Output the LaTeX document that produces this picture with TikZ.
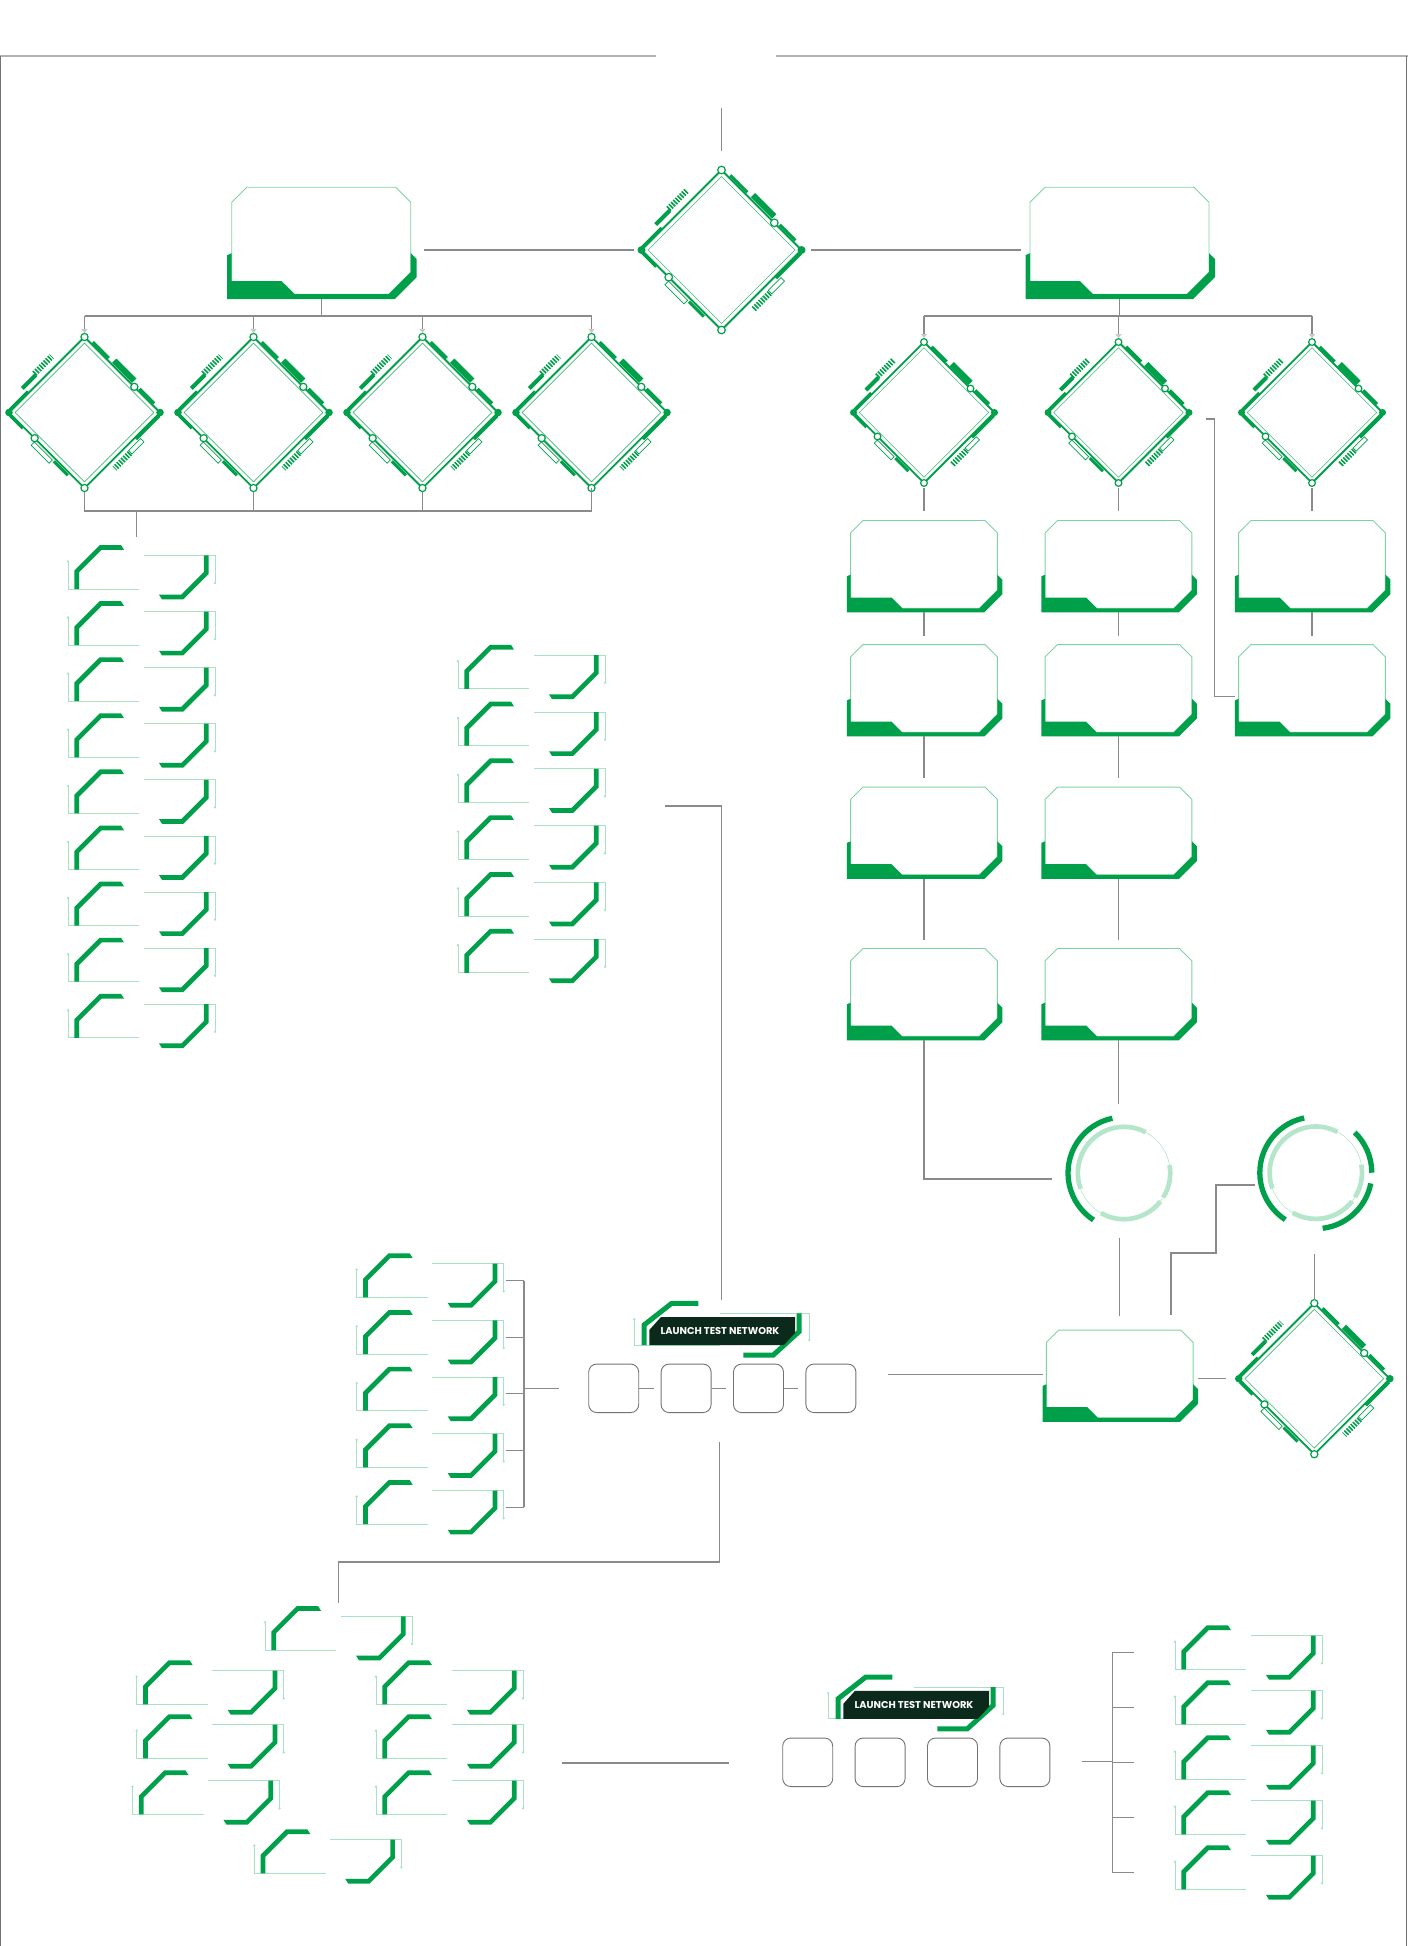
\documentclass[tikz,border=0pt]{standalone}
\usepackage{fontspec}
\newfontfamily\badgefont{Poppins}
\usetikzlibrary{arrows.meta}

\definecolor{gr}{HTML}{00A04B}
\definecolor{lgr}{HTML}{7FD3A3}
\definecolor{tgr}{HTML}{A8E2C2}
\definecolor{rgl}{HTML}{B5E6CB}
\definecolor{wireg}{HTML}{8A8A8A}
\definecolor{panel}{HTML}{0C2A1B}

\tikzset{
  wire/.style={draw=wireg, line width=1.1pt},
  drop/.style={wire, -{Triangle[width=6pt,length=4pt,color=black!22]}},
  slot/.style={draw=black!55, line width=0.9pt, rounded corners=8pt,
               minimum width=50pt, minimum height=48.5pt, inner sep=0pt},
  % diamond chip
  chip/.pic={
    \draw[gr, line width=1.8pt, line join=miter] (0,-80) -- (80,0) -- (0,80) -- (-80,0) -- cycle;
    \draw[gr!75, line width=0.6pt] (0,-73.5) -- (73.5,0) -- (0,73.5) -- (-73.5,0) -- cycle;
    \begin{scope}[shift={(0,-80)}, rotate=-45]
      \draw[gr, line width=3pt] (10,-2.5) -- (34,-2.5);
      \draw[gr, line width=6pt] (40,-4.5) -- (70,-4.5);
      \draw[gr, line width=3pt] (80,-2.5) -- (102,-2.5);
    \end{scope}
    \begin{scope}[shift={(80,0)}, rotate=-135]
      \draw[gr, line width=3pt] (3,-2) -- (38,-2);
      \draw[gr, line width=0.7pt] (34,-5) rectangle (52,-10);
      \draw[gr, line width=6pt, dash pattern=on 1.6pt off 1.4pt] (53,-8) -- (76,-8);
    \end{scope}
    \begin{scope}[shift={(0,80)}, rotate=135]
      \draw[gr, line width=3pt] (22,-3) -- (43,-3);
      \draw[gr, line width=0.7pt] (45,-3) rectangle (72,-8);
      \draw[gr, line width=3pt] (91,-1.5) -- (110,-1.5);
    \end{scope}
    \begin{scope}[shift={(-80,0)}, rotate=45]
      \draw[gr, line width=3pt] (3,-1.5) -- (30,-1.5);
      \draw[gr, line width=4pt] (28,-8) -- (48,-8);
      \draw[gr, line width=6pt, dash pattern=on 1.6pt off 1.4pt] (48,-10) -- (74,-10);
    \end{scope}
    \filldraw[fill=white, draw=gr, line width=1.2pt] (0,-80) circle (3.8) (0,80) circle (3.8)
      (52.8,-27.2) circle (3.8) (-52.8,27.2) circle (3.8);
    \fill[gr] (80,0) circle (4) (-80,0) circle (4);
    \coordinate (-n) at (0,-80);
    \coordinate (-s) at (0,80);
    \coordinate (-e) at (80,0);
    \coordinate (-w) at (-80,0);
  },
  % framed card with green foot
  card/.pic={
    \draw[lgr, line width=0.9pt] (-89.5,-38.5) -- (-74.5,-53.5) -- (74.5,-53.5) -- (89.5,-38.5)
      -- (89.5,31.5) -- (67.5,53.5) -- (-89.5,53.5) -- cycle;
    \fill[gr] (-94,14.5) -- (-94,58.5) -- (73.5,58.5) -- (95.5,36.5) -- (95.5,18.5) -- (89.5,12.5)
      -- (89.5,31.5) -- (67.5,53.5) -- (-26.5,53.5) -- (-39.5,40.5) -- (-89.5,40.5) -- (-89.5,12.5) -- cycle;
    \coordinate (-n) at (0,-53.5);
    \coordinate (-s) at (0,58.5);
    \coordinate (-e) at (95.5,10);
    \coordinate (-w) at (-94,10);
  },
  % bracket tile
  tile/.pic={
    \foreach \r in {0,180}{
      \begin{scope}[rotate=\r]
        \draw[tgr, line width=0.8pt] (-73.5,-10.8) -- (-73.5,16.8) -- (-2.2,16.8);
        \fill[tgr] (-73.5,-10.8) circle (1.3);
        \fill[gr] (-67.15,16.8) -- (-67.15,-1.77) -- (-41.77,-27.15) -- (-20.5,-27.15) -- (-17.5,-22.45)
          -- (-39.83,-22.45) -- (-62.45,0.17) -- (-62.45,16.8) -- cycle;
      \end{scope}}
    \coordinate (-n) at (0,-27.2);
    \coordinate (-e) at (73.5,0);
    \coordinate (-w) at (-73.5,0);
  },
  % segmented ring
  ring/.pic={
    \draw[rgl, line width=0.6pt] (0,0) circle (46.2);
    \draw[rgl, line width=4.7pt] (-62:46.2) arc[start angle=-62, end angle=-200, radius=46.2];
    \draw[rgl, line width=4.7pt] (32:46.2) arc[start angle=32, end angle=-10, radius=46.2];
    \draw[rgl, line width=4.7pt] (120:46.2) arc[start angle=120, end angle=38, radius=46.2];
    \draw[gr, line width=5.3pt] (-102:56) arc[start angle=-102, end angle=-237, radius=56];
    \coordinate (-c) at (0,0);
    \coordinate (-n) at (0,-58.6);
    \coordinate (-s) at (0,58.6);
    \coordinate (-w) at (-58.6,0);
  },
  % launch badge
  badge/.pic={
    \draw[tgr, line width=0.8pt] (-87.4,-11.4) -- (-87.4,14.3) -- (-1.7,14.3);
    \fill[tgr] (-87.4,-11.4) circle (1.3);
    \draw[tgr, line width=0.8pt] (-1.7,-17.4) -- (87.6,-17.4) -- (87.6,9.3);
    \fill[tgr] (87.6,9.3) circle (1.3);
    \draw[gr, line width=5pt, line join=miter] (-77.7,14.3) -- (-77.7,-5.7) -- (-50,-27.4) -- (-23.4,-27.4);
    \draw[gr, line width=5pt, line join=miter] (77.3,-17.4) -- (77.3,1) -- (51.6,24.3) -- (21.6,24.3);
    \fill[panel] (-72.4,14.3) -- (-72.4,-0.7) -- (-60.7,-13.7) -- (73.3,-13.7) -- (73.3,2.3) -- (62.3,14.3) -- cycle;
    \node[text=white, font=\badgefont\bfseries\fontsize{9.9}{10}\selectfont] (-t) at (-1.7,0.3) {LAUNCH TEST NETWORK};
    \coordinate (-n) at (0,-27.5);
  },
}

\begin{document}
\begin{tikzpicture}[x=1pt, y=-1pt]
\useasboundingbox (0,0) rectangle (1408,1946);

% frame
\draw[black!30, line width=2.5pt] (0,56) -- (656,56) (776,56) -- (1408,56);
\draw[black!55, line width=0.8pt] (0.5,56) -- (0.5,1946) (1406.5,56) -- (1406.5,1946);

% diamonds
\pic (dTop) at (721.5,250) {chip};
\foreach \x [count=\i] in {84.5,253.5,422.5,591.5}
  \pic[scale=0.944] (dL\i) at (\x,412.5) {chip};
\foreach \x [count=\i] in {924,1118.5,1312}
  \pic[scale=0.881] (dR\i) at (\x,412.5) {chip};
\pic[scale=0.944] (dBR) at (1314.3,1378.7) {chip};

% cards
\pic (bxL) at (321.2,240.7) {card};
\pic (bxR) at (1119.5,240.7) {card};
\foreach \y [count=\i] in {564.4,688.5,831,992.4}{
  \pic[scale=0.82] (cR1\i) at (924,\y) {card};
  \pic[scale=0.82] (cR2\i) at (1118.5,\y) {card};
}
\pic[scale=0.82] (cR31) at (1312,564.4) {card};
\pic[scale=0.82] (cR32) at (1312,688.5) {card};
\pic[scale=0.82] (cBot) at (1119.7,1374) {card};

% rings
\pic (ring1) at (1124,1173) {ring};
\pic (ring2) at (1315.8,1172.7) {ring};
\begin{scope}[shift={(ring2-c)}]
  \draw[gr, line width=5.3pt] (0:56) arc[start angle=0, end angle=-46, radius=56];
  \draw[gr, line width=5.3pt] (83:56) arc[start angle=83, end angle=11, radius=56];
\end{scope}

% tiles
\foreach \i in {1,...,9}
  \pic (tA\i) at (141.5,{572.2+56.1*(\i-1)}) {tile};
\foreach \i in {1,...,6}
  \pic (tB\i) at (531.5,{672+56.8*(\i-1)}) {tile};
\foreach \i in {1,...,5}
  \pic (tC\i) at (430.2,{1280.5+56.7*(\i-1)}) {tile};
\foreach \i in {1,...,5}
  \pic (tE\i) at (1248.5,{1652.5+55*(\i-1)}) {tile};
\pic (tD1) at (338.5,1633.2) {tile};
\pic (tD2) at (210.2,1687.5) {tile};
\pic (tD3) at (210.2,1741.5) {tile};
\pic (tD4) at (206,1797.5) {tile};
\pic (tD5) at (449.5,1687.5) {tile};
\pic (tD6) at (449.5,1741.5) {tile};
\pic (tD7) at (449.5,1797.5) {tile};
\pic (tD8) at (327.8,1856.5) {tile};

% launch groups
\pic (bdg1) at (721.7,1330.7) {badge};
\pic (bdg2) at (915.7,1704.5) {badge};
\foreach \x [count=\i] in {613.7,686.1,758.5,830.9}{
  \node[slot] (s1\i) at (\x,1388.3) {};
  \node[slot] (s2\i) at (\x+194,1762.3) {};
}

% free ends
\coordinate (topin) at (721.5,108);
\coordinate (jL) at (321.2,316);
\coordinate (jR) at (1119.5,316);
\coordinate (jLb) at (136.5,511);
\coordinate (k1) at (1052,1179);
\coordinate (k2) at (1206,419);
\coordinate (k3) at (1214.5,419);
\coordinate (k4) at (1255,1185);
\coordinate (k5) at (1216,1253);
\coordinate (k6) at (1171,1315);
\coordinate (k7) at (888,1374.5);
\coordinate (k8) at (665,806);
\coordinate (k9) at (719.5,1441.5);
\coordinate (k10) at (338.5,1562);
\coordinate (kC) at (524,1388.3);
\coordinate (kCe) at (559,1388.3);
\coordinate (k11) at (562,1763);
\coordinate (k12) at (729.4,1763);
\coordinate (kE) at (1112.3,1761.3);
\coordinate (k13) at (1082,1761.3);

% top
\draw[wire, shorten >=19pt] (topin) -- (dTop-n);
\draw[wire, shorten <=8pt, shorten >=7.5pt] (dTop-w) -- (dTop-w -| bxL-e);
\draw[wire, shorten <=9pt, shorten >=5pt] (dTop-e) -- (dTop-e -| bxR-w);

% left branch
\draw[wire] (bxL-s) -- (jL);
\draw[wire] (dL1-n |- jL) -- (dL4-n |- jL);
\foreach \i in {1,...,4}
  \draw[drop, shorten >=4pt] (dL\i-n |- jL) -- (dL\i-n);
\draw[wire, shorten <=3.5pt] (dL1-s) -- (dL1-s |- jLb) -- (dL4-s |- jLb) -- (dL4-s);
\foreach \i in {2,3}
  \draw[wire, shorten <=3.5pt] (dL\i-s) -- (dL\i-s |- jLb);
\draw[wire, shorten >=8pt] (jLb) -- (jLb |- tA1-n);

% right branch
\draw[wire] (bxR-s) -- (jR);
\draw[wire] (dR1-n |- jR) -- (dR3-n |- jR);
\foreach \i in {1,2,3}
  \draw[drop, shorten >=4pt] (dR\i-n |- jR) -- (dR\i-n);
\foreach \d/\c in {dR1/cR11, dR2/cR21, dR3/cR31}
  \draw[wire, shorten <=5pt, shorten >=10pt] (\d-s) -- (\c-n);
\foreach \a/\b in {cR11/cR12, cR12/cR13, cR13/cR14, cR21/cR22, cR22/cR23, cR23/cR24, cR31/cR32}
  \draw[wire, shorten >=9pt] (\a-s) -- (\b-n);
\draw[wire] (k2) -- (k3) |- (cR32-w);
\draw[wire] (cR14-s) |- (k1);
\draw[wire, shorten >=10pt] (cR24-s) -- (cR24-s |- ring1-n);
\draw[wire, shorten <=6pt, shorten >=14pt] (cBot-n |- ring1-s) -- (cBot-n);
\draw[wire] (k4) -| (k5) -| (k6);
\draw[wire, shorten <=23pt, shorten >=3.5pt] (dBR-n |- ring2-s) -- (dBR-n);
\draw[wire, shorten >=13pt] (dBR-w -| cBot-e) -- (dBR-w);
\draw[wire] (k7) -- (k7 -| cBot-w);

% middle group
\draw[wire, shorten >=3pt] (k8) -| (bdg1-n);
\foreach \a/\b in {s11/s12, s12/s13, s13/s14}
  \draw[wire, shorten >=7pt] (\a) -- (\b);
\draw[wire, shorten >=3pt] (k9) |- (k10) -- (tD1-n);
\draw[wire] (kC |- tC1-e) -- (kC |- tC5-e);
\foreach \i in {1,...,5}
  \draw[wire, shorten <=2pt] (tC\i-e) -- (tC\i-e -| kC);
\draw[wire] (kC) -- (kCe);

% bottom group
\draw[wire] (k11) -- (k12);
\draw[wire] (kE |- tE1-w) -- (kE |- tE5-w);
\foreach \i in {1,...,5}
  \draw[wire, shorten >=41pt] (kE |- tE\i-w) -- (tE\i-w);
\draw[wire] (k13) -- (kE);
\end{tikzpicture}
\end{document}
